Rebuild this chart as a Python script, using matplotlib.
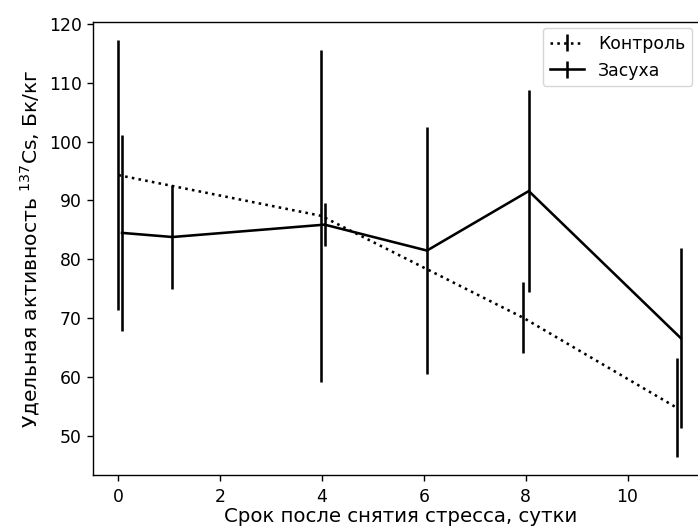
import matplotlib
matplotlib.use('Agg')
import matplotlib.pyplot as plt

# Контроль
ctrl_x = [0.0, 3.98, 7.95, 10.97]
ctrl_y = [94.3, 87.4, 70.1, 54.8]
ctrl_err = [22.9, 28.2, 6.0, 8.4]

# Засуха
drought_x = [0.07, 1.06, 4.05, 6.06, 8.06, 11.05]
drought_y = [84.5, 83.8, 85.9, 81.5, 91.6, 66.6]
drought_err = [16.7, 8.85, 3.6, 21.0, 17.1, 15.3]

fs = 12.4
lw = 1.85

fig = plt.figure(figsize=(6.98, 5.29), dpi=100)
# оси немного выходят за правый край, как на исходной картинке
ax = fig.add_axes([92.5 / 698, 1 - 475 / 529, (709 - 92.5) / 698, (475 - 22) / 529])

ax.errorbar(ctrl_x, ctrl_y, yerr=ctrl_err, color='k', linestyle=':',
            linewidth=lw, elinewidth=lw, label='Контроль')
ax.errorbar(drought_x, drought_y, yerr=drought_err, color='k', linestyle='-',
            linewidth=lw, elinewidth=lw, label='Засуха')

ax.set_xlim(-0.51, 11.6)
ax.set_ylim(43.4, 120.3)
ax.set_xticks([0, 2, 4, 6, 8, 10])
ax.set_yticks([50, 60, 70, 80, 90, 100, 110, 120])
ax.tick_params(labelsize=fs, length=4.3, width=1.0)
ax.tick_params(axis='x', pad=5)
for s in ax.spines.values():
    s.set_linewidth(1.0)

ax.set_xlabel('Срок после снятия стресса, сутки', fontsize=14.2, labelpad=1)
ax.set_ylabel('Удельная активность $^{137}$Cs, Бк/кг', fontsize=14.6, labelpad=5)

ax.legend(loc='upper left', bbox_to_anchor=(543 / 698, 1 - 28 / 529),
          bbox_transform=fig.transFigure, fontsize=fs, borderaxespad=0)

fig.savefig('out.png', dpi=100)
